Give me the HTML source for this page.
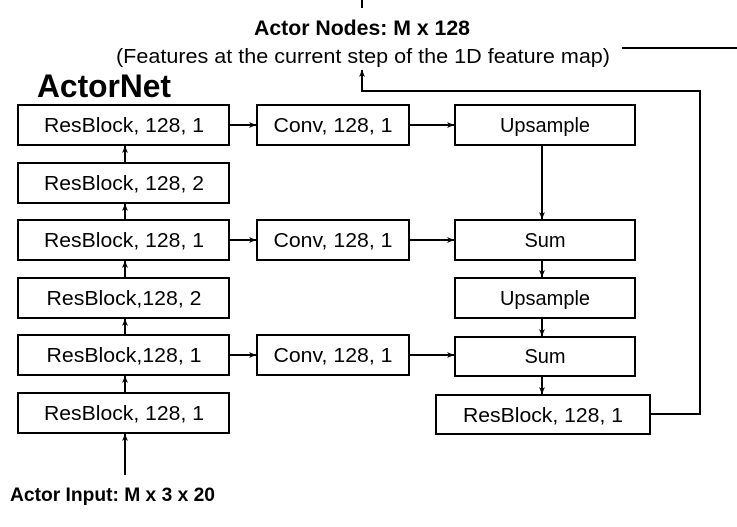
<!DOCTYPE html>
<html><head><style>
body{margin:0;background:#fff;}
svg text{font-family:"Liberation Sans",Arial,sans-serif;fill:#000;}
</style></head><body>
<svg width="737" height="522" viewBox="0 0 737 522" xmlns="http://www.w3.org/2000/svg">
<defs><marker id="a" markerWidth="8" markerHeight="8" refX="7" refY="4" orient="auto" markerUnits="userSpaceOnUse"><path d="M0,1 L7,4 L0,7 L2,4 Z" fill="#000"/></marker></defs>
<g stroke="#000" stroke-width="2" fill="#fff">
<rect x="18" y="105" width="211" height="40"/>
<rect x="18" y="163" width="211" height="40"/>
<rect x="18" y="220" width="211" height="40"/>
<rect x="18" y="278" width="211" height="40"/>
<rect x="18" y="335" width="211" height="40"/>
<rect x="18" y="393" width="211" height="40"/>
<rect x="257" y="105" width="152" height="40"/>
<rect x="257" y="220" width="152" height="40"/>
<rect x="257" y="335" width="152" height="40"/>
<rect x="455" y="105" width="180" height="40"/>
<rect x="455" y="220" width="180" height="40"/>
<rect x="455" y="278" width="180" height="40"/>
<rect x="455" y="337" width="180" height="39"/>
<rect x="436" y="395" width="214" height="39"/>
</g>
<g stroke="#000" stroke-width="2" fill="none" marker-end="url(#a)">
<line x1="125" y1="475" x2="125" y2="434"/>
<line x1="125" y1="393" x2="125" y2="376"/>
<line x1="125" y1="335" x2="125" y2="319"/>
<line x1="125" y1="278" x2="125" y2="261"/>
<line x1="125" y1="220" x2="125" y2="204"/>
<line x1="125" y1="163" x2="125" y2="146"/>
<line x1="229" y1="125" x2="256" y2="125"/>
<line x1="229" y1="240" x2="256" y2="240"/>
<line x1="229" y1="355" x2="256" y2="355"/>
<line x1="409" y1="125" x2="454" y2="125"/>
<line x1="409" y1="240" x2="454" y2="240"/>
<line x1="409" y1="355" x2="454" y2="355"/>
<line x1="542" y1="145" x2="542" y2="219"/>
<line x1="542" y1="260" x2="542" y2="277"/>
<line x1="542" y1="318" x2="542" y2="336"/>
<line x1="542" y1="376" x2="542" y2="394"/>
<polyline points="650,414 700,414 700,91 362,91 362,70"/>
</g>
<line x1="362" y1="0" x2="362" y2="8" stroke="#000" stroke-width="2"/>
<line x1="622" y1="48" x2="737" y2="48" stroke="#000" stroke-width="2"/>
<text x="362" y="35" font-size="21" font-weight="bold" text-anchor="middle" textLength="216" lengthAdjust="spacingAndGlyphs">Actor Nodes: M x 128</text>
<text x="363" y="63" font-size="20" text-anchor="middle" textLength="494" lengthAdjust="spacingAndGlyphs">(Features at the current step of the 1D feature map)</text>
<text x="37" y="97" font-size="32" font-weight="bold" textLength="134" lengthAdjust="spacingAndGlyphs">ActorNet</text>
<g font-size="20" text-anchor="middle">
<text x="124" y="132" textLength="160" lengthAdjust="spacingAndGlyphs">ResBlock, 128, 1</text>
<text x="124" y="190" textLength="160" lengthAdjust="spacingAndGlyphs">ResBlock, 128, 2</text>
<text x="124" y="247" textLength="160" lengthAdjust="spacingAndGlyphs">ResBlock, 128, 1</text>
<text x="124" y="305" textLength="155" lengthAdjust="spacingAndGlyphs">ResBlock,128, 2</text>
<text x="124" y="362" textLength="155" lengthAdjust="spacingAndGlyphs">ResBlock,128, 1</text>
<text x="124" y="420" textLength="160" lengthAdjust="spacingAndGlyphs">ResBlock, 128, 1</text>
<text x="333" y="132" textLength="119" lengthAdjust="spacingAndGlyphs">Conv, 128, 1</text>
<text x="333" y="247" textLength="119" lengthAdjust="spacingAndGlyphs">Conv, 128, 1</text>
<text x="333" y="362" textLength="119" lengthAdjust="spacingAndGlyphs">Conv, 128, 1</text>
<text x="545" y="132">Upsample</text>
<text x="545" y="247">Sum</text>
<text x="545" y="305">Upsample</text>
<text x="545" y="363">Sum</text>
<text x="543" y="422" textLength="160" lengthAdjust="spacingAndGlyphs">ResBlock, 128, 1</text>
</g>
<text x="10" y="501" font-size="19" font-weight="bold" textLength="205" lengthAdjust="spacingAndGlyphs">Actor Input: M x 3 x 20</text>
</svg>
</body></html>
